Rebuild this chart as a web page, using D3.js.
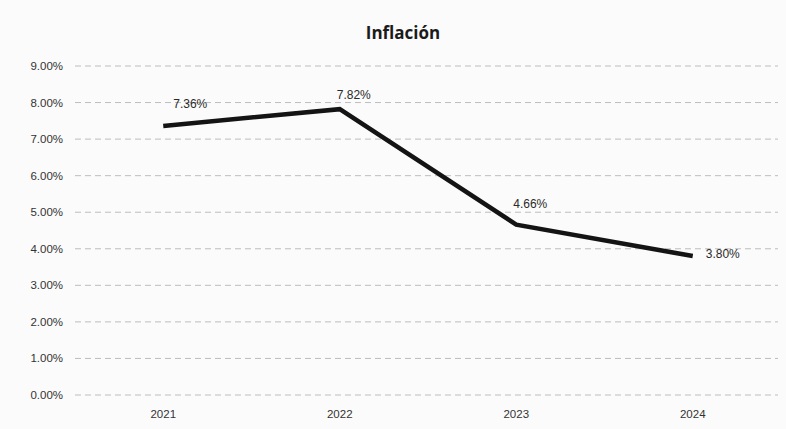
<!DOCTYPE html>
<html><head><meta charset="utf-8">
<script src="https://cdn.jsdelivr.net/npm/d3@7"></script>
<style>body{margin:0;background:#fff}svg{display:block}</style>
</head><body>
<svg id="c" width="786" height="429"></svg>
<script>
const years = ["2021","2022","2023","2024"];
const inflation = [7.36, 7.82, 4.66, 3.80];
const labels = ["7.36%","7.82%","4.66%","3.80%"];
const yTicks = [0,1,2,3,4,5,6,7,8,9];

const svg = d3.select("#c");
svg.append("rect").attr("width",786).attr("height",429).attr("fill","#fbfbfb");
const x = d3.scaleBand().domain(years).range([75,781]);
const y = d3.scaleLinear().domain([0,9]).range([395,66]);

svg.append("g").selectAll("line").data(yTicks).join("line")
  .attr("x1",75).attr("x2",778)
  .attr("y1",d=>y(d)).attr("y2",d=>y(d))
  .attr("stroke","#bdbdbd").attr("stroke-width",1)
  .attr("stroke-dasharray","6,4");

svg.append("g").selectAll("text").data(yTicks).join("text")
  .attr("x",63).attr("y",d=>y(d)+4)
  .attr("text-anchor","end")
  .attr("font-family","Liberation Sans, Arial, sans-serif")
  .attr("font-size",11.5).attr("fill","#333")
  .text(d=>d.toFixed(2)+"%");

svg.append("g").selectAll("text").data(years).join("text")
  .attr("x",d=>x(d)+x.bandwidth()/2).attr("y",418)
  .attr("text-anchor","middle")
  .attr("font-family","Liberation Sans, Arial, sans-serif")
  .attr("font-size",11.5).attr("fill","#333")
  .text(d=>d);

const line = d3.line().x((d,i)=>x(years[i])+x.bandwidth()/2).y(d=>y(d));
svg.append("path").datum(inflation).attr("d",line)
  .attr("fill","none").attr("stroke","#141414").attr("stroke-width",4.5)
  .attr("stroke-linejoin","miter");

const offs = [[27,-18],[14,-10],[14,-17],[30,2]];
svg.append("g").selectAll("text").data(inflation).join("text")
  .attr("x",(d,i)=>x(years[i])+x.bandwidth()/2+offs[i][0])
  .attr("y",(d,i)=>y(d)+offs[i][1])
  .attr("text-anchor","middle")
  .attr("font-family","Liberation Sans, Arial, sans-serif")
  .attr("font-size",12).attr("fill","#2a2a2a")
  .text((d,i)=>labels[i]);

svg.append("text").attr("x",403).attr("y",39)
  .attr("text-anchor","middle")
  .attr("font-family","Open Sans, sans-serif").attr("font-weight","bold")
  .attr("font-size",17).attr("fill","#1a1a1a")
  .text("Inflación");
</script>
</body></html>
